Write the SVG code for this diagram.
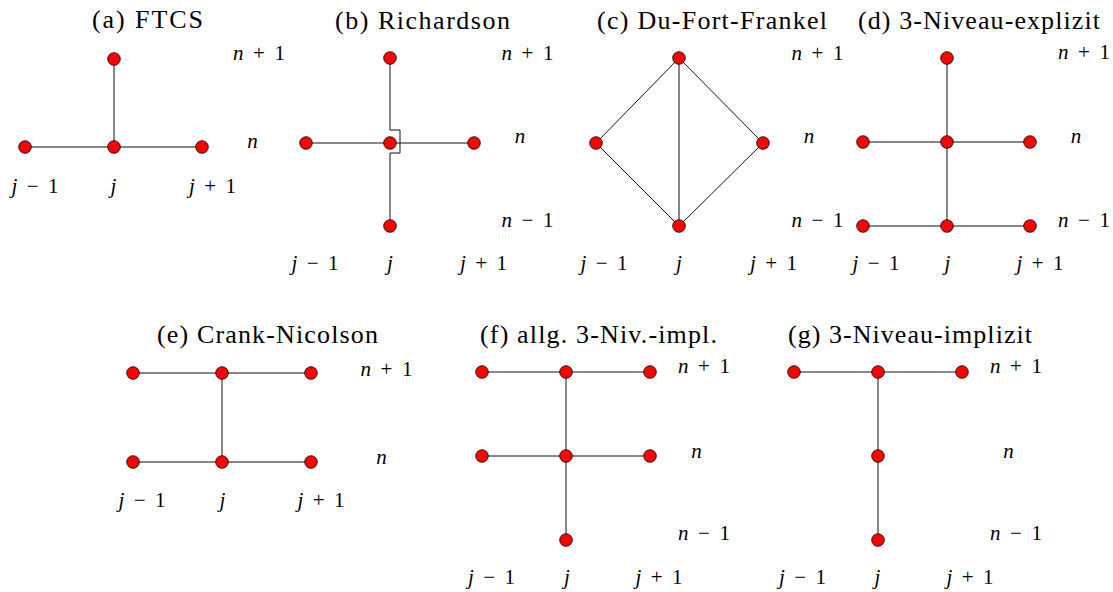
<svg xmlns="http://www.w3.org/2000/svg" width="1113" height="592" viewBox="0 0 1113 592">
<style>
.t{font-family:"Liberation Serif","DejaVu Serif","Times New Roman",serif;font-size:26px;fill:#000;text-anchor:middle}
.m{font-family:"Liberation Serif","DejaVu Serif","Times New Roman",serif;font-size:21px;fill:#000;text-anchor:middle}
.i{font-style:italic}
.e{fill:none;stroke:#111;stroke-width:1}
.n{fill:#ff0000;stroke:#000;stroke-width:0.8}
</style>
<defs><circle id="pt" r="6.3" class="n"/></defs>
<rect width="1113" height="592" fill="#fff"/>

<g id="connectors">
  <path class="e" d="M114,59V147M25,147H202"/>
  <path class="e" d="M306,143H474"/>
  <path class="e" d="M390,58V130H400V153H390V226"/>
  <path class="e" d="M679,58L596,143L679,226L763,143Z M679,58V226"/>
  <path class="e" d="M947,58V226M863,142H1030M863,226H1030"/>
  <path class="e" d="M133,373H311M133,462H311M222,373V462"/>
  <path class="e" d="M482,372H650M482,456H650M566,372V540"/>
  <path class="e" d="M794,372H962M878,372V540"/>
</g>

<g id="a-nodes">
  <g id="a-j-n1"><use href="#pt" x="114" y="59"/></g>
  <g id="a-jm1-n"><use href="#pt" x="25" y="147"/></g>
  <g id="a-j-n"><use href="#pt" x="114" y="147"/></g>
  <g id="a-jp1-n"><use href="#pt" x="202" y="147"/></g>
</g>
<g id="b-nodes">
  <g id="b-j-n1"><use href="#pt" x="390" y="58"/></g>
  <g id="b-jm1-n"><use href="#pt" x="306" y="143"/></g>
  <g id="b-j-n"><use href="#pt" x="390" y="143"/></g>
  <g id="b-jp1-n"><use href="#pt" x="474" y="143"/></g>
  <g id="b-j-nm1"><use href="#pt" x="390" y="226"/></g>
</g>
<g id="c-nodes">
  <g id="c-j-n1"><use href="#pt" x="679" y="58"/></g>
  <g id="c-jm1-n"><use href="#pt" x="596" y="143"/></g>
  <g id="c-jp1-n"><use href="#pt" x="763" y="143"/></g>
  <g id="c-j-nm1"><use href="#pt" x="679" y="226"/></g>
</g>
<g id="d-nodes">
  <g id="d-j-n1"><use href="#pt" x="947" y="58"/></g>
  <g id="d-jm1-n"><use href="#pt" x="863" y="142"/></g>
  <g id="d-j-n"><use href="#pt" x="947" y="142"/></g>
  <g id="d-jp1-n"><use href="#pt" x="1030" y="142"/></g>
  <g id="d-jm1-nm1"><use href="#pt" x="863" y="226"/></g>
  <g id="d-j-nm1"><use href="#pt" x="947" y="226"/></g>
  <g id="d-jp1-nm1"><use href="#pt" x="1030" y="226"/></g>
</g>
<g id="e-nodes">
  <g id="e-jm1-n1"><use href="#pt" x="133" y="373"/></g>
  <g id="e-j-n1"><use href="#pt" x="222" y="373"/></g>
  <g id="e-jp1-n1"><use href="#pt" x="311" y="373"/></g>
  <g id="e-jm1-n"><use href="#pt" x="133" y="462"/></g>
  <g id="e-j-n"><use href="#pt" x="222" y="462"/></g>
  <g id="e-jp1-n"><use href="#pt" x="311" y="462"/></g>
</g>
<g id="f-nodes">
  <g id="f-jm1-n1"><use href="#pt" x="482" y="372"/></g>
  <g id="f-j-n1"><use href="#pt" x="566" y="372"/></g>
  <g id="f-jp1-n1"><use href="#pt" x="650" y="372"/></g>
  <g id="f-jm1-n"><use href="#pt" x="482" y="456"/></g>
  <g id="f-j-n"><use href="#pt" x="566" y="456"/></g>
  <g id="f-jp1-n"><use href="#pt" x="650" y="456"/></g>
  <g id="f-j-nm1"><use href="#pt" x="566" y="540"/></g>
</g>
<g id="g-nodes">
  <g id="g-jm1-n1"><use href="#pt" x="794" y="372"/></g>
  <g id="g-j-n1"><use href="#pt" x="878" y="372"/></g>
  <g id="g-jp1-n1"><use href="#pt" x="962" y="372"/></g>
  <g id="g-j-n"><use href="#pt" x="878" y="456"/></g>
  <g id="g-j-nm1"><use href="#pt" x="878" y="540"/></g>
</g>

<g id="titles">
  <text class="t" x="147.5" y="28" textLength="111">(a) FTCS</text>
  <text class="t" x="422.5" y="29" textLength="175">(b) Richardson</text>
  <text class="t" x="712" y="29" textLength="230">(c) Du-Fort-Frankel</text>
  <text class="t" x="979" y="29" textLength="242">(d) 3-Niveau-explizit</text>
  <text class="t" x="267.5" y="343" textLength="221">(e) Crank-Nicolson</text>
  <text class="t" x="598.5" y="343" textLength="237">(f) allg. 3-Niv.-impl.</text>
  <text class="t" x="910" y="343" textLength="244">(g) 3-Niveau-implizit</text>
</g>

<g id="a-labels">
  <text class="m" x="259" y="60" textLength="52"><tspan class="i">n</tspan> + 1</text>
  <text class="m i" x="252.5" y="148">n</text>
  <text class="m" x="35" y="193" textLength="47"><tspan class="i">j</tspan> − 1</text>
  <text class="m i" x="113.5" y="193">j</text>
  <text class="m" x="212.5" y="193" textLength="47"><tspan class="i">j</tspan> + 1</text>
</g>
<g id="b-labels">
  <text class="m" x="527.5" y="60" textLength="52"><tspan class="i">n</tspan> + 1</text>
  <text class="m i" x="520" y="143">n</text>
  <text class="m" x="527.5" y="227" textLength="52"><tspan class="i">n</tspan> − 1</text>
  <text class="m" x="315" y="270" textLength="47"><tspan class="i">j</tspan> − 1</text>
  <text class="m i" x="390" y="270">j</text>
  <text class="m" x="483.5" y="270" textLength="47"><tspan class="i">j</tspan> + 1</text>
</g>
<g id="c-labels">
  <text class="m" x="817.5" y="60" textLength="52"><tspan class="i">n</tspan> + 1</text>
  <text class="m i" x="809" y="143">n</text>
  <text class="m" x="817.5" y="227" textLength="52"><tspan class="i">n</tspan> − 1</text>
  <text class="m" x="604" y="270" textLength="47"><tspan class="i">j</tspan> − 1</text>
  <text class="m i" x="679" y="270">j</text>
  <text class="m" x="773.5" y="270" textLength="47"><tspan class="i">j</tspan> + 1</text>
</g>
<g id="d-labels">
  <text class="m" x="1084" y="59" textLength="52"><tspan class="i">n</tspan> + 1</text>
  <text class="m i" x="1076" y="143">n</text>
  <text class="m" x="1084" y="227" textLength="52"><tspan class="i">n</tspan> − 1</text>
  <text class="m" x="876" y="270" textLength="47"><tspan class="i">j</tspan> − 1</text>
  <text class="m i" x="947.5" y="270">j</text>
  <text class="m" x="1040" y="270" textLength="47"><tspan class="i">j</tspan> + 1</text>
</g>
<g id="e-labels">
  <text class="m" x="386.5" y="376" textLength="52"><tspan class="i">n</tspan> + 1</text>
  <text class="m i" x="381.5" y="464">n</text>
  <text class="m" x="142" y="507" textLength="47"><tspan class="i">j</tspan> − 1</text>
  <text class="m i" x="222.5" y="507">j</text>
  <text class="m" x="321" y="507" textLength="47"><tspan class="i">j</tspan> + 1</text>
</g>
<g id="f-labels">
  <text class="m" x="704" y="373" textLength="52"><tspan class="i">n</tspan> + 1</text>
  <text class="m i" x="696.5" y="458">n</text>
  <text class="m" x="704" y="540" textLength="52"><tspan class="i">n</tspan> − 1</text>
  <text class="m" x="491.5" y="584" textLength="47"><tspan class="i">j</tspan> − 1</text>
  <text class="m i" x="567" y="584">j</text>
  <text class="m" x="659" y="584" textLength="47"><tspan class="i">j</tspan> + 1</text>
</g>
<g id="g-labels">
  <text class="m" x="1016" y="373" textLength="52"><tspan class="i">n</tspan> + 1</text>
  <text class="m i" x="1008.5" y="458">n</text>
  <text class="m" x="1016" y="540" textLength="52"><tspan class="i">n</tspan> − 1</text>
  <text class="m" x="802.5" y="584" textLength="47"><tspan class="i">j</tspan> − 1</text>
  <text class="m i" x="877.5" y="584">j</text>
  <text class="m" x="970" y="584" textLength="47"><tspan class="i">j</tspan> + 1</text>
</g>
</svg>
